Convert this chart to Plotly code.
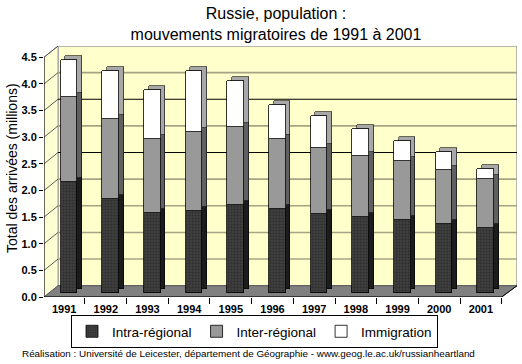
import plotly.graph_objects as go

years = ["1991", "1992", "1993", "1994", "1995", "1996", "1997", "1998", "1999", "2000", "2001"]
intra = [2.07, 1.76, 1.50, 1.54, 1.65, 1.57, 1.47, 1.43, 1.37, 1.29, 1.21]
inter = [1.60, 1.50, 1.39, 1.47, 1.47, 1.31, 1.25, 1.14, 1.11, 1.01, 0.93]
immig = [0.69, 0.91, 0.91, 1.16, 0.86, 0.64, 0.59, 0.50, 0.37, 0.34, 0.18]
y_ticks = [0, 0.5, 1.0, 1.5, 2.0, 2.5, 3.0, 3.5, 4.0, 4.5]
names = ["Intra-régional", "Inter-régional", "Immigration"]

FONT = "Liberation Sans, Arial, sans-serif"
idx = list(range(len(years)))

# geometry (px)
W, H = 522, 364
ML, MR, MT, MB = 44, 5, 46, 67
PW = W - ML - MR
PH = H - MT - MB
PXU = 53.27           # px per million
YTOP = PH / PXU       # front y range top
DZ = 0.212            # depth offset in y units

pxc = (501.7 - 43.3) / 11          # px per category
span = PW / pxc
r0 = -0.5 - (43.3 - ML) / pxc
XL = r0
XB = r0 + 14 / pxc
XR = r0 + span
XFE = 10.5
b0 = 0 - (69 - ML) / pxc
shift = 4.7 / pxc
ybar0 = (H - MB - 292.7) / PXU
yshift = 4.0 / PXU

fig = go.Figure()


def deco(xs, ys, **kw):
    fig.add_trace(go.Scatter(x=xs, y=ys, mode="lines", showlegend=False, hoverinfo="skip", **kw))


# walls and floor (decorative 3D frame)
deco([XB, XR, XR, XB, XB], [DZ, DZ, 4.5 + DZ, 4.5 + DZ, DZ], fill="toself", fillcolor="#ffffcc",
     line=dict(color="#a0a0a0", width=1.5))
deco([XL, XB, XB, XL, XL], [0, DZ, 4.5 + DZ, 4.5, 0], fill="toself", fillcolor="#ffffd4",
     line=dict(color="#a0a0a0", width=1))
for v in y_ticks[1:-1]:
    black = v in (2.5, 3.5)
    deco([XB, XR], [v + DZ, v + DZ],
         line=dict(color="#000000" if black else "#a4a484", width=1 if black else 1.6, simplify=False))
for v in y_ticks[1:]:
    deco([XL, XB], [v, v + DZ], line=dict(color="#333333", width=0.8, simplify=False))
deco([XL, XFE, XR, XB, XL], [0, 0, DZ, DZ, 0], fill="toself", fillcolor="#808080",
     line=dict(color="#555555", width=1))

front_cols = ["#3c3c3c", "#999999", "#ffffff"]
back_cols = ["#1c1c1c", "#606060", "#a8a8a8"]
series = [intra, inter, immig]

for s, c in zip(series, back_cols):
    fig.add_trace(go.Bar(x=idx, y=s, width=0.4, marker=dict(color=c, line=dict(color="#000", width=0.6)),
                         xaxis="x2", yaxis="y2", showlegend=False, hoverinfo="skip"))
for i, (s, c, n) in enumerate(zip(series, front_cols, names)):
    m = dict(color=c, line=dict(color="#000", width=0.8))
    if i == 0:
        m["pattern"] = dict(shape=".", fgcolor="#1e1e1e", bgcolor="#3e3e3e", size=3, solidity=0.35)
    fig.add_trace(go.Bar(x=idx, y=s, width=0.4, marker=m, name=n, xaxis="x3", yaxis="y3"))

shapes = [
    dict(type="line", xref="x", yref="y", x0=XL, x1=XFE, y0=0, y1=0, line=dict(color="#000", width=1), layer="above"),
    dict(type="line", xref="x", yref="y", x0=XFE, x1=XR, y0=0, y1=DZ, line=dict(color="#000", width=1), layer="above"),
    dict(type="line", xref="x", yref="y", x0=XL, x1=XL, y0=0, y1=4.5, line=dict(color="#000", width=1), layer="above"),
]

fig.update_layout(
    width=W, height=H,
    margin=dict(l=ML, r=MR, t=MT, b=MB, autoexpand=False),
    paper_bgcolor="white", plot_bgcolor="white",
    barmode="stack",
    bargap=0,
    font=dict(family=FONT, color="#000"),
    title=dict(text="Russie, population :<br>mouvements migratoires de 1991 à 2001",
               x=276 / W, xanchor="center", y=1 - 19 / H, yanchor="middle",
               font=dict(size=16, family=FONT, color="#000")),
    xaxis=dict(range=[XL, XR], tickvals=idx, ticktext=years, ticks="", showgrid=False,
               showline=False, zeroline=False, ticklabelstandoff=4,
               tickfont=dict(size=11, family=FONT, weight="bold"),
               minor=dict(tick0=0.5, dtick=1, ticks="outside", ticklen=6, tickcolor="#000", showgrid=False)),
    yaxis=dict(range=[0, YTOP], tickvals=y_ticks, ticktext=[f"{v:.1f}" for v in y_ticks],
               ticks="outside", ticklen=4, tickcolor="#000", showgrid=False, showline=False, zeroline=False,
               tickfont=dict(size=11, family=FONT, weight="bold")),
    xaxis2=dict(overlaying="x", range=[b0 - shift, b0 - shift + span], visible=False),
    yaxis2=dict(overlaying="y", range=[-ybar0 - yshift, YTOP - ybar0 - yshift], visible=False),
    xaxis3=dict(overlaying="x", range=[b0, b0 + span], visible=False),
    yaxis3=dict(overlaying="y", range=[-ybar0, YTOP - ybar0], visible=False),
    shapes=shapes,
    legend=dict(orientation="h", x=(71 - ML) / PW, y=-(315 - (H - MB)) / PH, xanchor="left", yanchor="top",
                bordercolor="#000", borderwidth=1, bgcolor="rgba(255,255,255,0)", font=dict(size=13.5, family=FONT),
                traceorder="normal", itemclick=False),
    annotations=[
        dict(text="Total des arrivées (millions)", textangle=-90, xref="paper", yref="paper",
             x=(12 - ML) / PW, y=(H - MB - 168) / PH, xanchor="center", yanchor="middle",
             showarrow=False, font=dict(size=14, family=FONT)),
        dict(text="Réalisation : Université de Leicester, département de Géographie - www.geog.le.ac.uk/russianheartland",
             xref="paper", yref="paper", x=(20 - ML) / PW, y=-(353 - (H - MB)) / PH,
             xanchor="left", yanchor="middle", showarrow=False, font=dict(size=9.9, family=FONT)),
    ],
)

fig.write_html("out.html", config={"displayModeBar": False},
               post_script="document.body.style.margin='0px';")
